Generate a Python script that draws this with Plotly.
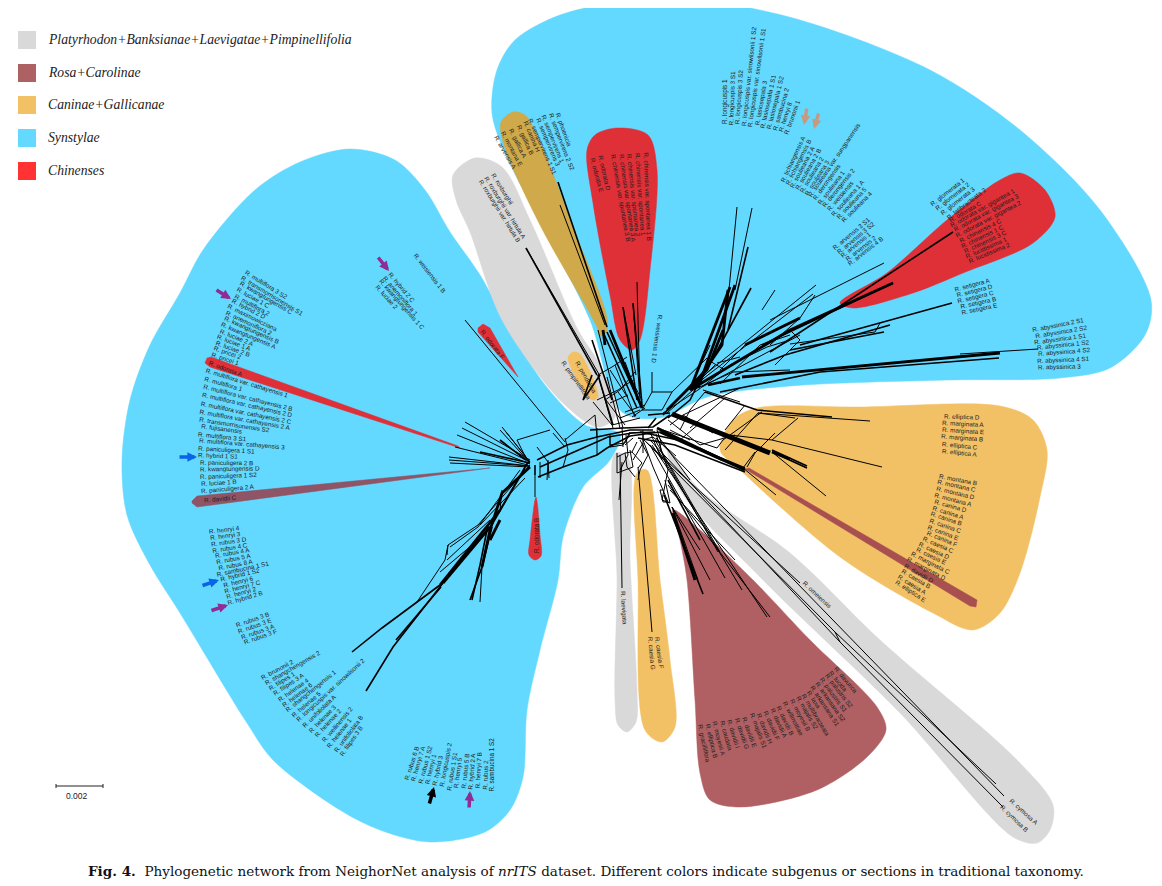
#!/usr/bin/env python

import math

import numpy as np
import plotly.graph_objects as go

# legend
legend_names = ['Platyrhodon+Banksianae+Laevigatae+Pimpinellifolia', 'Rosa+Carolinae', 'Caninae+Gallicanae',
                'Synstylae', 'Chinenses']
legend_colors = ['#d9d9d9', '#ad6162', '#f2c166', '#63d9ff', '#ff3333']

# coloured regions, outline points, (x, y)
blue_left = [(350, 149), (395, 160), (425, 190), (450, 232), (480, 275), (510, 330), (545, 385), (585, 425), (620, 434),
             (610, 460), (583, 487), (563, 537), (558, 580), (540, 650), (527, 710), (523, 777), (510, 810), (485, 832),
             (430, 842), (380, 830), (340, 810), (273, 760), (247, 723), (180, 613), (150, 565), (127, 515), (122, 460),
             (130, 400), (150, 345), (180, 293), (203, 250), (255, 190), (300, 162), (350, 149)]
blue_right = [(635, 0), (560, 15), (515, 40), (497, 70), (492, 113), (505, 153), (550, 240), (590, 320), (622, 412),
              (660, 418), (707, 397), (790, 386), (947, 380), (1060, 378), (1110, 368), (1145, 335), (1151, 300),
              (1100, 210), (1020, 130), (930, 70), (800, 20), (700, 0), (635, 0)]
gray_rox = [(475, 158), (453, 175), (456, 200), (470, 232), (502, 320), (560, 400), (597, 427), (613, 420), (617, 407),
            (597, 360), (578, 330), (530, 220), (502, 167), (475, 158)]
gold_arv = [(513, 112), (501, 122), (504, 145), (540, 225), (597, 327), (600, 336), (606, 333), (607, 318), (575, 232),
            (537, 135), (525, 115), (513, 112)]
red_chin = [(617, 128), (595, 135), (587, 150), (593, 203), (610, 295), (620, 340), (632, 350), (640, 340), (650, 270),
            (657, 170), (648, 135), (617, 128)]
red_odo = [(1020, 173), (1000, 180), (947, 220), (887, 273), (840, 303), (853, 308), (913, 293), (963, 273), (1033, 243),
           (1055, 217), (1045, 190), (1020, 173)]
orange_big = [(720, 450), (733, 420), (757, 408), (860, 407), (1000, 406), (1033, 420), (1047, 450), (1040, 497),
              (1020, 573), (1000, 613), (973, 630), (933, 613), (840, 557), (737, 467), (720, 450)]
gray_cym = [(668, 450), (700, 490), (790, 553), (880, 640), (1017, 760), (1053, 805), (1050, 830), (1037, 843),
            (1013, 837), (900, 713), (763, 580), (680, 490), (668, 450)]
brown_big = [(673, 510), (680, 540), (687, 580), (695, 700), (700, 773), (710, 800), (740, 807), (817, 790), (867, 757),
             (886, 730), (877, 707), (810, 640), (753, 580), (700, 530), (673, 510)]
gray_lae = [(615, 453), (617, 580), (615, 700), (618, 725), (627, 732), (636, 722), (637, 690), (630, 560), (628, 458),
            (615, 453)]
orange_cae = [(637, 473), (638, 580), (645, 730), (662, 742), (675, 727), (670, 660), (660, 580), (647, 470),
              (637, 473)]
orange_pen = [(573, 352), (568, 358), (592, 400), (598, 397), (580, 354), (573, 352)]
red_odo_f = [(478, 328), (483, 324), (490, 328), (518, 377), (478, 332), (478, 328)]
red_odo_b = [(536, 497), (530, 540), (529, 555), (535, 560), (541, 556), (540, 535), (536, 497)]
red_odo_a = [(207, 358), (211, 357), (458, 446), (460, 448), (210, 367), (205, 363), (207, 358)]
brown_dav_c = [(192, 501), (197, 496), (490, 468), (197, 507), (192, 503), (192, 501)]
brown_dav_d = [(745, 469), (749, 468), (977, 600), (976, 607), (970, 606), (745, 469)]

# network edges, one polyline per entry
net_thin = [
    [(465, 320), (565, 442)], [(550, 430), (517, 440), (527, 460)], [(553, 433), (565, 447)],
    [(565, 438), (568, 450), (563, 467)], [(597, 428), (597, 455)], [(610, 435), (610, 447), (623, 445), (630, 432)],
    [(597, 437), (595, 415), (565, 440)], [(537, 447), (548, 462), (547, 480)], [(622, 427), (623, 447)],
    [(530, 460), (465, 422)], [(530, 462), (462, 428)], [(530, 464), (457, 435)], [(530, 462), (502, 427)],
    [(530, 462), (506, 432)], [(530, 463), (500, 430)], [(530, 466), (449, 457)], [(530, 466), (449, 460)],
    [(530, 467), (450, 463)], [(528, 465), (455, 447)], [(478, 525), (448, 545), (445, 560), (417, 602)],
    [(448, 545), (447, 555)], [(440, 572), (478, 540)], [(447, 560), (490, 520)], [(530, 465), (478, 525)],
    [(525, 478), (480, 525)], [(520, 470), (478, 527), (450, 547)], [(502, 490), (500, 510), (488, 530)],
    [(535, 475), (535, 497)], [(540, 462), (540, 478)], [(548, 460), (549, 478)], [(480, 602), (482, 567)],
    [(652, 372), (652, 392)], [(652, 392), (672, 392), (707, 358)], [(652, 392), (642, 410)], [(672, 392), (662, 410)],
    [(642, 410), (662, 410)], [(597, 400), (618, 390), (633, 380)], [(598, 375), (612, 367), (627, 357)],
    [(593, 402), (612, 425)], [(606, 400), (625, 425)], [(618, 392), (636, 416)], [(622, 362), (642, 400)],
    [(610, 370), (628, 398)], [(612, 425), (640, 418)], [(625, 412), (645, 405)], [(598, 330), (623, 428)],
    [(598, 375), (613, 428)], [(607, 377), (620, 428)], [(625, 362), (642, 408)], [(615, 365), (635, 417)],
    [(605, 400), (620, 390), (635, 372)], [(610, 403), (628, 395)], [(620, 418), (640, 410)], [(632, 417), (645, 408)],
    [(617, 453), (617, 473), (633, 467), (630, 450)], [(626, 435), (628, 455), (620, 470)], [(625, 445), (633, 438)],
    [(610, 437), (610, 445), (625, 443), (630, 433)], [(630, 433), (643, 432), (643, 440), (653, 437)],
    [(653, 437), (660, 443), (661, 450)], [(637, 442), (632, 452), (642, 463), (638, 468)],
    [(632, 452), (625, 453), (617, 457)], [(625, 453), (627, 467), (635, 477)],
    [(643, 440), (653, 467), (663, 490), (660, 490), (663, 502), (668, 502), (663, 490)],
    [(640, 440), (648, 455), (640, 470), (638, 480)], [(650, 432), (662, 460)], [(643, 430), (643, 453)],
    [(657, 430), (662, 445)], [(633, 460), (643, 443)], [(656, 434), (668, 470), (662, 500), (670, 503), (665, 480)],
    [(620, 455), (622, 588)], [(622, 462), (619, 500)], [(638, 467), (652, 632)], [(644, 440), (800, 583)],
    [(646, 442), (835, 632), (996, 784)], [(650, 440), (840, 642), (1003, 807)], [(835, 632), (840, 642)],
    [(656, 438), (1004, 796)], [(652, 445), (767, 617)], [(655, 445), (742, 590)], [(650, 445), (725, 578)],
    [(655, 440), (720, 552)], [(660, 450), (718, 552)], [(670, 490), (735, 560)], [(658, 436), (690, 480)],
    [(668, 485), (770, 617)], [(672, 507), (700, 550)], [(672, 507), (710, 580)], [(672, 507), (698, 580)],
    [(705, 392), (690, 410), (680, 430)], [(725, 398), (690, 428)], [(758, 413), (870, 421)], [(758, 413), (725, 450)],
    [(798, 418), (772, 440), (730, 435)], [(772, 440), (882, 467)], [(745, 405), (725, 430)],
    [(700, 448), (743, 468), (776, 495)], [(743, 468), (755, 452)], [(772, 452), (826, 496)], [(700, 423), (680, 440)],
    [(700, 445), (735, 435)], [(668, 420), (700, 445)], [(795, 418), (758, 413)], [(670, 425), (683, 415), (713, 433)],
    [(683, 415), (740, 388)], [(703, 390), (740, 402)], [(717, 363), (740, 357)], [(692, 385), (816, 285)],
    [(663, 413), (698, 390), (730, 365), (767, 347), (790, 340)], [(667, 413), (693, 390), (733, 372), (790, 370)],
    [(663, 430), (717, 448), (723, 440), (762, 412)], [(747, 467), (755, 453), (775, 433)],
    [(695, 385), (813, 294)], [(770, 320), (884, 263)], [(702, 387), (800, 335)], [(762, 310), (775, 290)],
    [(737, 207), (728, 300)], [(752, 208), (735, 290)], [(770, 345), (800, 318), (815, 295)],
    [(880, 323), (875, 332), (790, 344)], [(775, 365), (800, 340), (790, 330)], [(720, 384), (760, 345), (790, 335)],
    [(720, 370), (745, 345)], [(708, 360), (725, 370)], [(700, 380), (715, 365)], [(690, 388), (710, 345)],
    [(560, 205), (605, 325)], [(623, 307), (636, 375)], [(633, 303), (640, 400)], [(637, 282), (640, 395)],
    [(526, 248), (600, 376)], [(660, 442), (676, 456)], [(670, 430), (690, 440)], [(1038, 349), (960, 354)],
]
net_mid = [
    [(537, 460), (567, 445), (597, 437), (630, 430), (653, 430)], [(540, 467), (567, 455), (608, 437), (632, 433),
                                                                     (655, 432)],
    [(538, 477), (563, 467), (597, 455), (607, 448), (630, 436), (660, 432)], [(590, 430), (623, 428), (653, 427),
                                                                                 (670, 415)],
    [(528, 462), (500, 510)], [(525, 468), (490, 528)], [(535, 465), (535, 475)], [(526, 460), (500, 440)],
    [(480, 452), (530, 463)], [(492, 527), (482, 567), (470, 600)], [(488, 525), (480, 565), (472, 600)],
    [(440, 585), (382, 628), (352, 652)], [(443, 583), (393, 647), (366, 691)], [(441, 587), (396, 640)],
    [(607, 332), (642, 408)], [(603, 332), (637, 408)], [(558, 182), (607, 327)], [(526, 248), (572, 330), (597, 375)],
    [(598, 375), (613, 425)], [(592, 340), (612, 400)], [(623, 307), (637, 400)], [(633, 303), (642, 405)],
    [(600, 375), (583, 400), (592, 375)], [(648, 415), (670, 413)], [(700, 380), (690, 400), (668, 418)],
    [(953, 232), (770, 352)], [(893, 283), (762, 345)], [(952, 303), (880, 323), (800, 345)],
    [(890, 325), (785, 355), (735, 375)], [(884, 332), (790, 350)], [(999, 358), (820, 372), (720, 392)],
    [(640, 432), (678, 440), (745, 468)], [(638, 438), (675, 445), (745, 472)], [(705, 392), (757, 410), (832, 417)],
    [(648, 428), (656, 418)], [(748, 247), (728, 330)], [(751, 288), (712, 360)], [(663, 415), (705, 370)],
    [(807, 468), (772, 452)], [(807, 466), (772, 450)], [(664, 495), (703, 594)], [(668, 480), (700, 540)],
]
net_thick = [
    [(500, 510), (440, 585)], [(490, 527), (443, 583)], [(500, 520), (490, 540)],
    [(530, 467), (502, 493), (490, 530), (482, 567)], [(667, 410), (707, 370), (723, 330)], [(690, 390), (730, 287)],
    [(698, 388), (735, 285)], [(693, 388), (722, 345), (728, 290)], [(690, 390), (790, 330), (893, 283)],
    [(745, 345), (800, 318)], [(742, 377), (1000, 353)], [(660, 432), (745, 470)], [(772, 452), (790, 459)],
    [(708, 385), (740, 378)], [(603, 330), (605, 345)], [(657, 428), (723, 460)], [(673, 513), (695, 580)],
    [(610, 330), (642, 408)],
]
net_heavy = [
    [(672, 414), (770, 453)],
]

# sample labels, top to bottom or left to right inside each group
names_multiflora = ['R. multiflora 3 S2', 'R. transmorrisonensis S1', 'R. kwangtungensis C', 'R. luciae 1 C',
                    'R. multiflora 2', 'R. hybrid 2 D', 'R. maximowicziana', 'R. anemoniflora 2', 'R. kwangtungensis B',
                    'R. kwangtungensis A', 'R. luciae 2 A', 'R. luciae 1 A', 'R. luciae 2 B', 'R. pricei 2',
                    'R. pricei 1']
names_cathay = ['R. multiflora var. cathayensis 1', 'R. multiflora 1', 'R. multiflora var. cathayensis 2 B',
                'R. multiflora var. cathayensis 2 D', 'R. multiflora var. cathayensis 2 C',
                'R. multiflora var. cathayensis 2 A', 'R. transmorrisonensis S2', 'R. fujisanensis',
                'R. multiflora 3 S1', 'R. multiflora var. cathayensis 3', 'R. paniculigera 1 S1', 'R. hybrid 1 S1',
                'R. paniculigera 2 B', 'R. kwangtungensis D', 'R. paniculigera 1 S2', 'R. luciae 1 B',
                'R. paniculigera 2 A']
names_henryi = ['R. henryi 4', 'R. henryi 3', 'R. rubus 3 D', 'R. rubus 4 C', 'R. rubus 4 A', 'R. rubus 5 A',
                'R. rubus 8 A', 'R. sambucina 1 S1', 'R. hybrid 1 S2', 'R. henryi 6', 'R. henryi 7 C', 'R. henryi 2',
                'R. hybrid 2 B']
names_rubus = ['R. rubus 3 B', 'R. rubus 3 E', 'R. rubus 3 A', 'R. rubus 3 F']
names_helenae = ['R. brunonii 2', 'R. shangchengensis 2', 'R. filipes 1', 'R. filipes 3 A', 'R. helenae 4',
                 'R. helenae 6', 'R. shangchengensis 1', 'R. helenae 5', 'R. longicuspis var. sinowilsonii 2',
                 'R. unifoliolata A', 'R. helenae 3', 'R. helenae 2', 'R. weilinensis 2', 'R. helenae 1',
                 'R. unifoliolata B', 'R. filipes 3 B']
names_bottom = ['R. rubus 6 B', 'R. henryi 7 A', 'R. rubus 1 S2', 'R. henryi 1', 'R. hybrid 3', 'R. longicuspis 2',
                'R. rubus 1 S1', 'R. henryi 5', 'R. rubus 5 B', 'R. hybrid 2 A', 'R. henryi 7 B', 'R. rubus 2',
                'R. sambucina 1 S2']
names_hybrid = ['R. hybrid 2 C', 'R. anemoniflora 1', 'R. kwangtungensis 1 C', 'R. luciae 2']
names_rox = ['R. roxburghii', 'R. roxburghii var. hirtula A', 'R. roxburghii var. hirtula B']
names_gold = ['R. arvensis A', 'R. montana E', 'R. gallica A', 'R. gallica B', 'R. canina H']
names_semper = ['R. sempervirens 1 S1', 'R. sempervirens 3', 'R. sempervirens 1', 'R. sempervirens 2 S2',
                'R. phoenicia']
names_chin_odo = ['R. odorata E', 'R. odorata D']
names_chin = ['R. chinensis var. spontanea 3 B', 'R. chinensis var. spontanea 3 A', 'R. chinensis var. spontanea 2',
              'R. chinensis var. spontanea 1', 'R. chinensis var. spontanea 1 B']
names_longi = ['R. longicuspis 1', 'R. longicuspis 3 S1', 'R. longicuspis 3 S2', 'R. longicuspis var. sinowilsonii 1 S2',
               'R. longicuspis var. sinowilsonii 1 S1', 'R. lasiosepala 3', 'R. lasiosepala 1 S1',
               'R. lasiosepala 1 S2', 'R. sambucina 2', 'R. henryi 8', 'R. brunonii 1']
names_soul = ['R. lichiangensis A', 'R. lichiangensis B', 'R. soulieana 2 A', 'R. soulieana 2 B', 'R. soulieana 2',
              'R. soulieana 3', 'R. soulieana var. sungpanensis', 'R. derongensis', 'R. soulieana 1',
              'R. derongensis 2', 'R. weisiensis', 'R. soulieana 1 A', 'R. soulieana 5', 'R. soulieana 4']
names_arv = ['R. arvensis 3 S1', 'R. arvensis 3 S2', 'R. arvensis 1', 'R. arvensis 2', 'R. arvensis 4 B']
names_glom = ['R. glomerata 1', 'R. glomerata 2', 'R. glomerata 3', 'R. latibracteata 2']
names_gig = ['R. odorata C', 'R. odorata var. gigantea 1', 'R. odorata var. gigantea 3', 'R. odorata var. gigantea 2',
             'R. chinensis 4 C', 'R. chinensis 1 C', 'R. chinensis 3 C', 'R. lucidissima 1', 'R. lucidissima 2']
names_set = ['R. setigera A', 'R. setigera D', 'R. setigera C', 'R. setigera B', 'R. setigera E']
names_aby = ['R. abyssinica 2 S1', 'R. abyssinica 2 S2', 'R. abyssinica 1 S1', 'R. abyssinica 1 S2',
             'R. abyssinica 4 S2', 'R. abyssinica 4 S1', 'R. abyssinica 3']
names_ell = ['R. elliptica D', 'R. marginata A', 'R. marginata E', 'R. marginata B', 'R. elliptica C', 'R. elliptica A']
names_mont = ['R. montana B', 'R. montana C', 'R. montana D', 'R. montana A', 'R. canina D', 'R. canina A',
              'R. canina B', 'R. canina C', 'R. canina E', 'R. canina F', 'R. caesia C', 'R. caesia D', 'R. caesia E',
              'R. marginata C', 'R. marginata D', 'R. davidii D', 'R. caesia B', 'R. caesia A', 'R. elliptica E']
names_brown = ['R. gracilliflora', 'R. elliptica B', 'R. moyesii A', 'R. caudata', 'R. davidii I', 'R. davidii G',
               'R. davidii E', 'R. majalis S1', 'R. davidii H', 'R. davidii F', 'R. davidii A', 'R. davidii B',
               'R. willmottiae', 'R. moyesii B', 'R. majalis S2', 'R. multibracteata', 'R. laxa', 'R. arkansana S1',
               'R. arkansana S2', 'R. palustris S1', 'R. palustris S2', 'R. lucida', 'R. davurica']
names_caesia = ['R. caesia G', 'R. caesia F']
names_cymosa = ['R. cymosa B', 'R. cymosa A']

# (names, arc of label starts, first angle, last angle)
label_groups = [
    (names_multiflora, [(248, 273), (228, 313), (213, 355)], 32, 18),
    (['R. odorata A'], [(211, 363)], 20, 20),
    (names_cathay, [(208, 371), (202, 415), (201, 453), (203, 491)], 17, -5),
    (['R. davidii C'], [(205, 500)], -5, -5),
    (names_henryi, [(210, 532), (229, 603)], -7, -16),
    (names_rubus, [(237, 625), (245, 642)], -19, -19),
    (names_helenae, [(262, 677), (295, 718), (342, 755)], -28, -55),
    (names_bottom, [(407, 778), (449, 787), (492, 788)], -72, -90),
    (names_hybrid, [(391, 275), (377, 286)], 50, 48),
    (['R. weisiensis 1 B'], [(417, 256)], 52, 52),
    (names_rox, [(493, 175), (481, 182)], 58, 58),
    (names_gold, [(497, 137), (526, 123)], 60, 67),
    (names_semper, [(532, 123), (558, 114)], 66, 70),
    (names_chin_odo, [(593, 159), (601, 157)], 75, 77),
    (names_chin, [(613, 156), (646, 155)], 80, 88),
    (names_longi, [(725, 123), (757, 124), (787, 132)], -90, -70),
    (names_soul, [(783, 181), (813, 197), (843, 220)], -65, -45),
    (names_arv, [(835, 247), (850, 263)], -40, -38),
    (names_glom, [(934, 203), (948, 217)], -38, -38),
    (names_gig, [(951, 219), (970, 261)], -30, -23),
    (names_set, [(956, 289), (963, 312)], -15, -12),
    (names_aby, [(1035, 330), (1039, 348), (1039, 367)], -11, -1),
    (names_ell, [(945, 416), (943, 451)], 2, 6),
    (names_mont, [(942, 476), (928, 533), (896, 582)], 11, 33),
    (names_brown, [(700, 726), (755, 716), (803, 697), (836, 668)], 78, 50),
    (names_caesia, [(651, 638), (657, 638)], 85, 82),
    (['R. laevigata'], [(623, 592)], 87, 87),
    (['R. weisiensis 1 D'], [(660, 318)], 98, 98),
    (['R. pendulina'], [(578, 363)], 60, 60),
    (['R. pimpinellifolia'], [(563, 362)], 55, 55),
    (['R. odorata F'], [(483, 332)], 52, 52),
    (['R. odorata B'], [(536, 552)], -90, -90),
    (['R. omeiensis'], [(805, 583)], 43, 43),
    (names_cymosa, [(1003, 808), (1012, 801)], 44, 42),
]

# marker arrows: tail x, tail y, head x, head y, colour
arrows = [
    (215, 289, 231, 299, '#922b93'), (377, 256, 389, 271, '#922b93'), (178, 457, 197, 457, '#0a64e8'),
    (201, 586, 219, 580, '#0a64e8'), (210, 611, 228, 605, '#922b93'), (429, 805, 434, 787, '#000000'),
    (469, 809, 470, 791, '#922b93'), (807, 107, 804, 125, '#c49a84'), (819, 112, 814, 129, '#c49a84'),
]


def text_width(name, size):
    narrow = set("ijlt.,fr 1I")
    return sum(0.27 if c in narrow else 0.53 for c in name) * size


def add_region(fig, points, color, smooth=True):
    xs, ys = zip(*points)
    fig.add_trace(go.Scatter(x=xs, y=ys, mode='lines', fill='toself', fillcolor=color, hoverinfo='skip',
                             line={'color': color, 'width': 0.5, 'shape': 'spline' if smooth else 'linear',
                                   'smoothing': 0.9}))


def add_edges(fig, polylines, width):
    xs, ys = [], []
    for line in polylines:
        xs += [p[0] for p in line] + [None]
        ys += [p[1] for p in line] + [None]
    fig.add_trace(go.Scatter(x=xs, y=ys, mode='lines', hoverinfo='skip', line={'color': 'black', 'width': width}))


def label_annotations(size=6.3):
    out = []
    for names, arc, a0, a1 in label_groups:
        arc_x, arc_y = zip(*arc)
        knots = np.linspace(0, 1, len(arc))
        for i, name in enumerate(names):
            t = i / (len(names) - 1) if len(names) > 1 else 0
            angle = a0 + (a1 - a0) * t
            half = text_width(name, size) / 2
            cx = np.interp(t, knots, arc_x) + half * math.cos(math.radians(angle))
            cy = np.interp(t, knots, arc_y) + half * math.sin(math.radians(angle))
            out.append(dict(x=cx, y=cy, text=name, textangle=angle, showarrow=False, xanchor='center', yanchor='middle',
                            font={'family': 'Liberation Sans', 'size': size, 'color': '#1c1c1c'}))
    return out


fig = go.Figure()

for region in [blue_left, blue_right]:
    add_region(fig, region, '#63d9ff')
add_region(fig, gray_rox, '#d9d9d9')
add_region(fig, gold_arv, '#cfa94a')
add_region(fig, red_chin, '#df2f37')
add_region(fig, red_odo, '#df2f37')
add_region(fig, orange_big, '#f2c166')
add_region(fig, gray_cym, '#d9d9d9')
add_region(fig, brown_big, '#b06062')
add_region(fig, gray_lae, '#d9d9d9')
add_region(fig, orange_cae, '#f2c166')
add_region(fig, orange_pen, '#f2c166')
add_region(fig, red_odo_f, '#df2f37', smooth=False)
add_region(fig, red_odo_b, '#df2f37')
add_region(fig, red_odo_a, '#df2f37', smooth=False)
add_region(fig, brown_dav_c, '#8f5566', smooth=False)
add_region(fig, brown_dav_d, '#a84f50', smooth=False)

add_edges(fig, net_thin, 1)
add_edges(fig, net_mid, 1.6)
add_edges(fig, net_thick, 2.8)
add_edges(fig, net_heavy, 5)

# legend swatches
legend_y = [40, 73, 105, 138, 171]
fig.add_trace(go.Scatter(x=[27] * len(legend_y), y=legend_y, mode='markers', hoverinfo='skip',
                         marker={'symbol': 'square', 'size': 18, 'color': legend_colors}))

# scale bar
fig.add_trace(go.Scatter(x=[56, 56, None, 56, 103, None, 103, 103], y=[784, 788, None, 786, 786, None, 784, 788],
                         mode='lines', hoverinfo='skip', line={'color': '#222222', 'width': 1}))

annotations = label_annotations()
for name, y in zip(legend_names, legend_y):
    annotations.append(dict(x=46, y=y - 1, text='<i>' + name + '</i>', showarrow=False, xanchor='left', yanchor='middle',
                            font={'family': 'Liberation Serif', 'size': 13.7, 'color': '#222222'}))
annotations.append(dict(x=77, y=796, text='0.002', showarrow=False, xanchor='center', yanchor='middle',
                        font={'family': 'Liberation Sans', 'size': 8.5, 'color': '#222222'}))
annotations.append(dict(x=586, y=871, showarrow=False, xanchor='center', yanchor='middle',
                        text='<b>Fig. 4.</b>  Phylogenetic network from NeighorNet analysis of <i>nrITS</i> dataset. '
                             'Different colors indicate subgenus or sections in traditional taxonomy.',
                        font={'family': 'DejaVu Serif', 'size': 13.55, 'color': '#111111'}))
for x0, y0, x1, y1, color in arrows:
    annotations.append(dict(x=x1, y=y1, ax=x0, ay=y0, xref='x', yref='y', axref='x', ayref='y', text='', showarrow=True,
                            arrowhead=2, arrowsize=0.55, arrowwidth=3.5, arrowcolor=color))

# the page has an 8 px body margin, so the drawing area starts 8 px in
fig.update_layout(width=1154, height=878, margin={'l': 0, 'r': 0, 't': 0, 'b': 0}, showlegend=False,
                  paper_bgcolor='white', plot_bgcolor='white', annotations=annotations,
                  xaxis={'range': [8, 1162], 'visible': False, 'fixedrange': True},
                  yaxis={'range': [886, 8], 'visible': False, 'fixedrange': True})

fig.write_html("out.html")
